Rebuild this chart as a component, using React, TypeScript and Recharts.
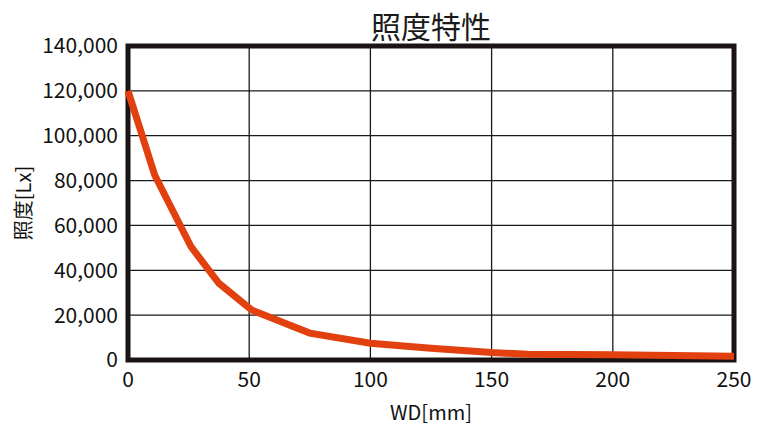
import React from 'react';
import { LineChart, Line, XAxis, YAxis, CartesianGrid, ReferenceArea } from 'recharts';

// WD[mm] vs 照度[Lx]
const wd = [0, 11, 26, 37.5, 51, 75, 100, 125, 150, 165, 200, 250];
const lux = [120000, 82500, 50500, 34200, 22300, 12000, 7500, 5200, 3300, 2600, 2300, 1700];

const xTicks = [0, 50, 100, 150, 200, 250];
const yTicks = [0, 20000, 40000, 60000, 80000, 100000, 120000, 140000];

const data = wd.map((w, i) => ({ wd: w, lux: lux[i] }));

const FONT = "'Noto Sans CJK JP', sans-serif";
const INK = '#1a1414';

const App: React.FC = () => {
  return (
    <div style={{ position: 'absolute', left: 0, top: 0, width: 770, height: 432, background: '#fff', fontFamily: FONT }}>
      <div
        style={{
          position: 'absolute',
          top: 10,
          left: 0,
          width: 862,
          textAlign: 'center',
          fontSize: 30,
          lineHeight: 1,
          color: '#1a1a1a',
        }}
      >
        照度特性
      </div>
      <LineChart width={770} height={432} data={data} margin={{ top: 46, right: 36, left: 0, bottom: 0 }}>
        <CartesianGrid stroke="#1a1a1a" strokeWidth={1.3} />
        <XAxis
          dataKey="wd"
          type="number"
          domain={[0, 250]}
          ticks={xTicks}
          height={72}
          tickLine={false}
          axisLine={false}
          tickSize={0}
          tickMargin={12}
          tick={{ fill: '#111', fontSize: 21, fontFamily: FONT }}
          label={{ value: 'WD[mm]', position: 'insideBottom', offset: 12, fill: '#111', fontSize: 20, fontFamily: FONT }}
        />
        <YAxis
          type="number"
          domain={[0, 140000]}
          ticks={yTicks}
          width={128}
          tickLine={false}
          axisLine={false}
          tickSize={0}
          tickMargin={10}
          tickFormatter={(v: number) => v.toLocaleString('en-US')}
          tick={{ fill: '#111', fontSize: 21, fontFamily: FONT }}
          label={{
            value: '照度[Lx]',
            angle: -90,
            position: 'insideLeft',
            offset: 24,
            fill: '#111',
            fontSize: 20,
            fontFamily: FONT,
            style: { textAnchor: 'middle' },
          }}
        />
        <Line
          type="linear"
          dataKey="lux"
          stroke="#E2400F"
          strokeWidth={7}
          dot={false}
          isAnimationActive={false}
        />
        <ReferenceArea x1={0} x2={250} y1={0} y2={140000} fill="none" stroke={INK} strokeWidth={5} ifOverflow="visible" />
      </LineChart>
    </div>
  );
};

export default App;
